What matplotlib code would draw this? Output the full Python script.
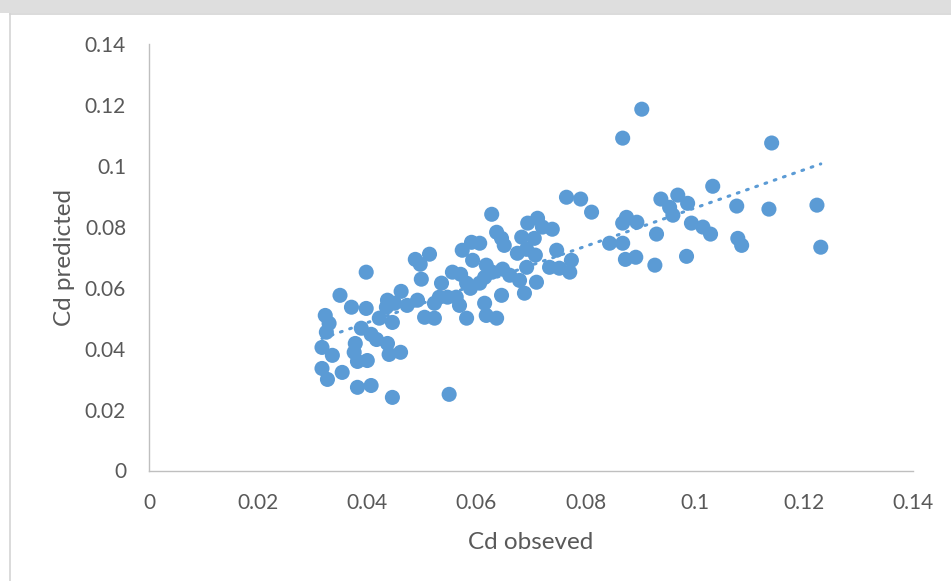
import numpy as np
import matplotlib
matplotlib.use("Agg")
import matplotlib.pyplot as plt
from matplotlib.patches import Rectangle
from matplotlib.lines import Line2D

plt.rcParams['font.family'] = ['Lato', 'DejaVu Sans']

cd_observed = [
    0.0317, 0.0323, 0.0330, 0.0325, 0.0336, 0.0317, 0.0327, 0.0354, 0.0350, 0.0371,
    0.0398, 0.0398, 0.0389, 0.0407, 0.0417, 0.0378, 0.0376, 0.0382, 0.0400, 0.0437,
    0.0440, 0.0461, 0.0382, 0.0407, 0.0446, 0.0422, 0.0437, 0.0446, 0.0462, 0.0450,
    0.0473, 0.0435, 0.0492, 0.0505, 0.0523, 0.0523, 0.0532, 0.0488, 0.0497, 0.0514,
    0.0499, 0.0536, 0.0556, 0.0571, 0.0582, 0.0563, 0.0547, 0.0569, 0.0582, 0.0574,
    0.0593, 0.0550, 0.0591, 0.0606, 0.0589, 0.0628, 0.0637, 0.0646, 0.0651, 0.0615,
    0.0629, 0.0606, 0.0618, 0.0648, 0.0661, 0.0679, 0.0692, 0.0675, 0.0692, 0.0708,
    0.0683, 0.0694, 0.0706, 0.0712, 0.0721, 0.0739, 0.0710, 0.0646, 0.0688, 0.0615,
    0.0618, 0.0637, 0.0734, 0.0752, 0.0774, 0.0771, 0.0747, 0.0765, 0.0791, 0.0811,
    0.0903, 0.0868, 0.1141, 0.1033, 0.0938, 0.0969, 0.0954, 0.0987, 0.0960, 0.1077,
    0.1136, 0.1224, 0.0875, 0.0868, 0.0894, 0.0994, 0.1015, 0.1029, 0.0930, 0.0844,
    0.0868, 0.1079, 0.1086, 0.1231, 0.0873, 0.0892, 0.0927, 0.0985,
]
cd_predicted = [
    0.0404, 0.0509, 0.0483, 0.0454, 0.0378, 0.0335, 0.0299, 0.0322, 0.0575, 0.0536,
    0.0532, 0.0651, 0.0467, 0.0447, 0.0430, 0.0417, 0.0388, 0.0358, 0.0361, 0.0417,
    0.0381, 0.0388, 0.0273, 0.0279, 0.0240, 0.0500, 0.0559, 0.0486, 0.0588, 0.0549,
    0.0542, 0.0536, 0.0559, 0.0503, 0.0500, 0.0549, 0.0569, 0.0693, 0.0677, 0.0710,
    0.0628, 0.0615, 0.0651, 0.0644, 0.0615, 0.0569, 0.0569, 0.0542, 0.0500, 0.0723,
    0.0690, 0.0250, 0.0749, 0.0746, 0.0598, 0.0841, 0.0782, 0.0762, 0.0739, 0.0634,
    0.0651, 0.0615, 0.0674, 0.0661, 0.0641, 0.0624, 0.0667, 0.0713, 0.0726, 0.0707,
    0.0766, 0.0812, 0.0762, 0.0828, 0.0799, 0.0792, 0.0618, 0.0575, 0.0582, 0.0549,
    0.0509, 0.0500, 0.0667, 0.0664, 0.0690, 0.0651, 0.0723, 0.0897, 0.0891, 0.0848,
    0.1186, 0.1091, 0.1075, 0.0933, 0.0891, 0.0904, 0.0864, 0.0877, 0.0838, 0.0868,
    0.0858, 0.0871, 0.0831, 0.0812, 0.0815, 0.0812, 0.0799, 0.0776, 0.0776, 0.0746,
    0.0746, 0.0762, 0.0739, 0.0733, 0.0693, 0.0700, 0.0674, 0.0703,
]
tick_values = [0, 0.02, 0.04, 0.06, 0.08, 0.1, 0.12, 0.14]
tick_labels = ['0', '0.02', '0.04', '0.06', '0.08', '0.1', '0.12', '0.14']
x_label = 'Cd obseved'
y_label = 'Cd predicted'

W, H = 951, 581
fig = plt.figure(figsize=(W / 100, H / 100), dpi=100)
fig.patch.set_facecolor('white')

# background decoration (gray band at top and chart frame)
fig.patches.append(Rectangle((0, 1 - 13 / H), 1, 13 / H, transform=fig.transFigure,
                             facecolor='#dedede', edgecolor='none', zorder=0))
fig.lines.append(Line2D([10 / W, 1], [1 - 14 / H, 1 - 14 / H], transform=fig.transFigure,
                        color='#d4d4d4', lw=1.2))
fig.lines.append(Line2D([10 / W, 10 / W], [0, 1 - 14 / H], transform=fig.transFigure,
                        color='#d4d4d4', lw=1.2))

ax = fig.add_axes([149 / W, 1 - 470.5 / H, (913 - 149) / W, (470.5 - 44) / H])
blue = '#5B9BD5'
ax.scatter(cd_observed, cd_predicted, s=118, color=blue, edgecolors='none', zorder=3)

# linear trendline
xo = np.array(cd_observed)
yo = np.array(cd_predicted)
m, b = np.polyfit(xo, yo, 1)
xs = np.array([xo.min(), xo.max()])
ax.plot(xs, m * xs + b, color=blue, lw=2.2, linestyle=(0, (0.6, 2.6)),
        dash_capstyle='round', zorder=2)

ax.set_xlim(0, 0.14)
ax.set_ylim(0, 0.14)
ax.set_xticks(tick_values)
ax.set_xticklabels(tick_labels)
ax.set_yticks(tick_values)
ax.set_yticklabels(tick_labels)
ax.tick_params(axis='both', length=0, labelsize=15, colors='#595959')
ax.tick_params(axis='x', pad=16)
ax.tick_params(axis='y', pad=16.5)
for s in ['top', 'right']:
    ax.spines[s].set_visible(False)
for s in ['left', 'bottom']:
    ax.spines[s].set_color('#bfbfbf')
    ax.spines[s].set_linewidth(1.0)
ax.set_xlabel(x_label, fontsize=17.5, color='#595959', labelpad=14)
ax.set_ylabel(y_label, fontsize=17.5, color='#595959', labelpad=7)

fig.savefig('out.png', dpi=100)
